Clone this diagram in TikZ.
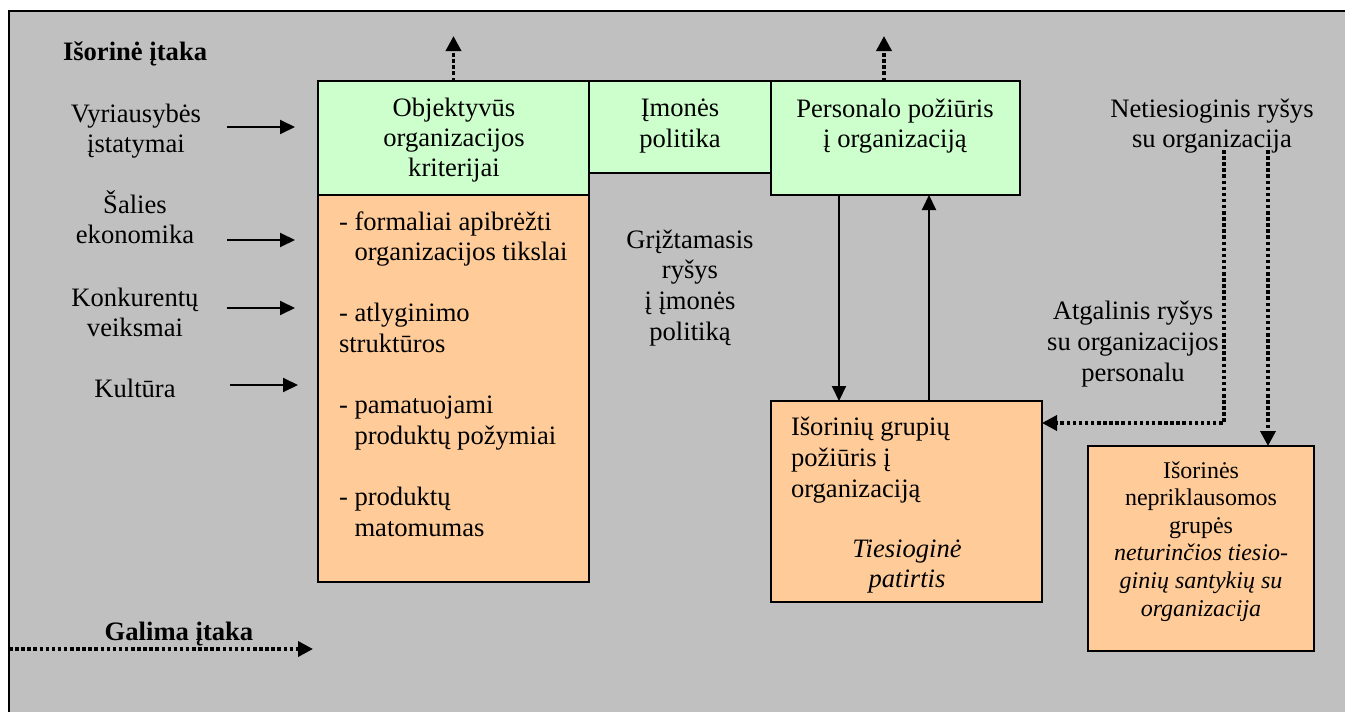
\documentclass[tikz,border=0pt]{standalone}
\usepackage{fontspec}
\setmainfont{Liberation Serif}
\usetikzlibrary{arrows.meta}
\definecolor{panel}{HTML}{C0C0C0}
\definecolor{boxgreen}{HTML}{CCFFCC}
\definecolor{boxorange}{HTML}{FFCC99}
% invisible rule fixing the top of the first line of a text block
\newcommand\linetop{\rule{0pt}{24pt}}
\begin{document}
\begin{tikzpicture}[x=1pt,y=-1pt,
  every node/.style={inner sep=0pt, outer sep=0pt},
  txt/.style={font=\fontsize{26.6}{30.5}\selectfont, align=center},
  gbox/.style={draw, line width=2pt, fill=boxgreen, anchor=north west},
  obox/.style={draw, line width=2pt, fill=boxorange, anchor=north west},
  arr/.style={line width=2pt, -{Triangle[length=15pt,width=14pt]}},
  dotarr/.style={line width=3.5pt, dash pattern=on 3.5pt off 2.6pt, -{Triangle[length=15pt,width=15pt]}},
]
\useasboundingbox (0,0) rectangle (1345,712);
\fill[white] (0,0) rectangle (1345,712);
% grey panel with its frame
\fill[panel] (9,11) rectangle (1345,712);
\draw[line width=2.5pt] (9,712) -- (9,11) -- (1345,11);

% external influences
\node[font=\fontsize{26.6}{30.5}\selectfont\bfseries, anchor=base west] (ext) at (63,60) {Išorinė įtaka};
\node[txt, anchor=north] (vyr) at (136,98) {\linetop Vyriausybės\\įstatymai};
\node[txt, anchor=north] (sal) at (135,189) {\linetop Šalies\\ekonomika};
\node[txt, anchor=north] (kon) at (135,282) {\linetop Konkurentų\\veiksmai};
\node[txt, anchor=north] (kul) at (135,373) {\linetop Kultūra};

\coordinate (a1s) at (227,127); \coordinate (a1e) at (295,127);
\coordinate (a2s) at (227,240); \coordinate (a2e) at (295,240);
\coordinate (a3s) at (227,308); \coordinate (a3e) at (295,308);
\coordinate (a4s) at (230,385); \coordinate (a4e) at (298,385);
\draw[arr] (a1s) -- (a1e);
\draw[arr] (a2s) -- (a2e);
\draw[arr] (a3s) -- (a3e);
\draw[arr] (a4s) -- (a4e);

% boxes
\node[gbox, minimum width=271pt, minimum height=114pt] (obj) at (318,81) {};
\node[obox, minimum width=271pt, minimum height=387pt] (crit) at (318,195) {};
\node[gbox, minimum width=182pt, minimum height=92pt] (imon) at (589,81) {};
\node[gbox, minimum width=249pt, minimum height=114pt] (pers) at (771,81) {};
\node[obox, minimum width=271pt, minimum height=201pt] (grp) at (771,401) {};
\node[obox, minimum width=226pt, minimum height=205pt] (nep) at (1088,446) {};

% box texts
\node[txt, anchor=north, font=\fontsize{26.6}{30}\selectfont] (objT) at (454,92)
  {\linetop Objektyvūs\\organizacijos\\kriterijai};
\node[txt, anchor=north, font=\fontsize{26.6}{31}\selectfont] (imonT) at (680,92)
  {\linetop Įmonės\\politika};
\node[txt, anchor=north, font=\fontsize{26.6}{30}\selectfont] (persT) at (895,93)
  {\linetop Personalo požiūris\\į organizaciją};
\node[txt, align=left, anchor=north west, font=\fontsize{26.6}{30.6}\selectfont] (critT) at (339,206)
  {\linetop- formaliai apibrėžti\\
   \hphantom{- }organizacijos tikslai\\[30.6pt]
   - atlyginimo\\
   struktūros\\[30.6pt]
   - pamatuojami\\
   \hphantom{- }produktų požymiai\\[30.6pt]
   - produktų\\
   \hphantom{- }matomumas};
\node[txt, align=left, anchor=north west, font=\fontsize{26.6}{31}\selectfont] (grpT) at (791,411)
  {\linetop Išorinių grupių\\požiūris į\\organizaciją};
\node[txt, anchor=north, font=\fontsize{26.6}{30}\selectfont\itshape] (grpI) at (907,533)
  {\linetop Tiesioginė\\patirtis};
\node[txt, anchor=north, font=\fontsize{24}{27.6}\selectfont] (nepT) at (1201,454)
  {\linetop Išorinės\\nepriklausomos\\grupės\\
   \textit{neturinčios tiesio-}\\\textit{ginių santykių su}\\\textit{organizacija}};

% free labels
\node[txt, anchor=north, font=\fontsize{26.6}{30.7}\selectfont] (grz) at (690,224)
  {\linetop Grįžtamasis\\ryšys\\į įmonės\\politiką};
\node[txt, anchor=north, font=\fontsize{26.6}{30}\selectfont] (net) at (1212,93)
  {\linetop Netiesioginis ryšys\\su organizacija};
\node[txt, anchor=north, font=\fontsize{26.6}{31}\selectfont] (atg) at (1133,295)
  {\linetop Atgalinis ryšys\\su organizacijos\\personalu};
\node[font=\fontsize{26.6}{30.5}\selectfont\bfseries, anchor=base] (gal) at (179,640) {Galima įtaka};

% connectors
\coordinate (upA) at (454,36);
\coordinate (upB) at (884,36);
\draw[dotarr] (obj.north) -- (obj.north |- upA);
\draw[dotarr] (pers.north -| upB) -- (upB);

\coordinate (dn) at (839,0);
\coordinate (up) at (929,0);
\draw[arr] (pers.south -| dn) -- (grp.north -| dn);
\draw[arr] (grp.north -| up) -- (pers.south -| up);

\coordinate (nA) at (1224,150);
\coordinate (nB) at (1268,150);
\coordinate (fb) at (0,423);
\draw[dotarr] (nA) |- (grp.east |- fb);
\draw[dotarr] (nB) -- (nep.north -| nB);

\coordinate (gS) at (9,649);
\coordinate (gE) at (313,649);
\draw[dotarr] (gS) -- (gE);
\end{tikzpicture}
\end{document}
